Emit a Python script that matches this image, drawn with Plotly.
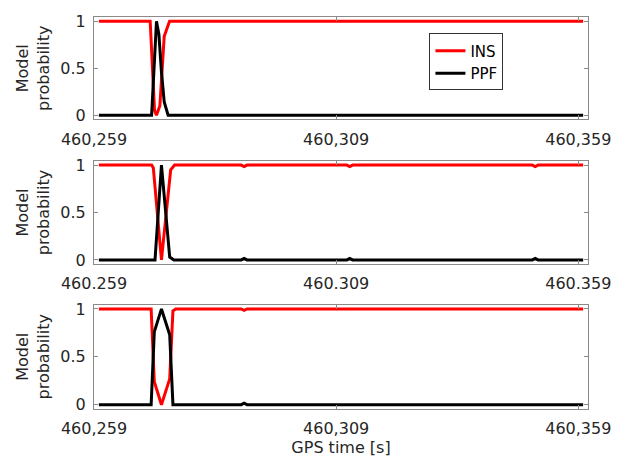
import plotly.graph_objects as go

# Model probabilities of the INS and PPF filters over GPS time (three runs)
ins1_t = [460260, 460270.6, 460271.5, 460271.9, 460272.6, 460273.5, 460274.6, 460360]
ins1_p = [1, 1, 0.05, 0, 0.1, 0.84, 1, 1]
ppf1_t = [460260, 460270.9, 460271.9, 460272.4, 460272.9, 460273.5, 460274.3, 460360]
ppf1_p = [0, 0, 1, 0.86, 0.48, 0.14, 0, 0]

ins2_t = [460260, 460270.9, 460271.25, 460272.93, 460274.83, 460275.64, 460289.4, 460290,
          460290.6, 460311.2, 460311.8, 460312.4, 460349.5, 460350.1, 460350.7, 460360]
ins2_p = [1, 1, 0.97, 0, 0.95, 1, 1, 0.985, 1, 1, 0.985, 1, 1, 0.985, 1, 1]
ppf2_t = [460260, 460271.6, 460272.93, 460274.63, 460275.5, 460289.4, 460290, 460290.6,
          460311.2, 460311.8, 460312.4, 460349.5, 460350.1, 460350.7, 460360]
ppf2_p = [0, 0, 1, 0.03, 0, 0, 0.015, 0, 0, 0.015, 0, 0, 0.015, 0, 0]

ins3_t = [460260, 460270.8, 460271.45, 460272.93, 460274.63, 460275.3, 460275.9,
          460289.4, 460290, 460290.6, 460360]
ins3_p = [1, 1, 0.24, 0, 0.27, 0.98, 1, 1, 0.985, 1, 1]
ppf3_t = [460260, 460270.8, 460271.45, 460272.93, 460274.63, 460275.3, 460289.4, 460290,
          460290.6, 460360]
ppf3_p = [0, 0, 0.76, 1, 0.73, 0, 0, 0.015, 0, 0]

x_ticks = [460259, 460309, 460359]
x_labels_comma = ["460,259", "460,309", "460,359"]
x_labels_point = ["460.259", "460.309", "460.359"]
y_ticks = [0, 0.5, 1]
y_labels = ["0", "0.5", "1"]

FONT = "DejaVu Sans"
RED = "#ff0000"
BLACK = "#000000"
AXIS_GREY = "#8a8a8a"
TEXT = "#262626"

panels = [
    (ins1_t, ins1_p, ppf1_t, ppf1_p, x_labels_comma),
    (ins2_t, ins2_p, ppf2_t, ppf2_p, x_labels_point),
    (ins3_t, ins3_p, ppf3_t, ppf3_p, x_labels_comma),
]
domains = [[0.7387, 1.0], [0.3693, 0.6332], [0.0, 0.2663]]

fig = go.Figure()
layout = dict(
    width=623, height=464,
    margin=dict(l=94, r=24, t=13, b=53),
    paper_bgcolor="white", plot_bgcolor="white",
    font=dict(family=FONT, size=16, color=TEXT),
    showlegend=True,
    legend=dict(x=0.679, y=0.958, xanchor="left", yanchor="top",
                bordercolor="#333333", borderwidth=1, bgcolor="white",
                font=dict(family=FONT, size=15, color=BLACK),
                tracegroupgap=0),
)

for i, (it, ip, pt, pp, xl) in enumerate(panels):
    n = "" if i == 0 else str(i + 1)
    xa, ya = "x" + n, "y" + n
    fig.add_trace(go.Scatter(x=it, y=ip, mode="lines", name="INS",
                             line=dict(color=RED, width=3),
                             xaxis=xa, yaxis=ya, showlegend=(i == 0)))
    fig.add_trace(go.Scatter(x=pt, y=pp, mode="lines", name="PPF",
                             line=dict(color=BLACK, width=3),
                             xaxis=xa, yaxis=ya, showlegend=(i == 0)))
    layout["xaxis" + n] = dict(
        domain=[0, 1], anchor=ya, range=[460259, 460361],
        tickvals=x_ticks, ticktext=xl,
        ticks="inside", ticklen=4, tickcolor=AXIS_GREY,
        showline=True, linecolor=AXIS_GREY, linewidth=1, mirror="ticks",
        showgrid=False, zeroline=False,
        tickfont=dict(family=FONT, size=16, color=TEXT),
        ticklabelstandoff=5,
    )
    layout["yaxis" + n] = dict(
        domain=domains[i], anchor=xa, range=[-0.045, 1.045],
        tickvals=y_ticks, ticktext=y_labels,
        ticks="inside", ticklen=4, tickcolor=AXIS_GREY,
        showline=True, linecolor=AXIS_GREY, linewidth=1, mirror="ticks",
        showgrid=False, zeroline=False,
        tickfont=dict(family=FONT, size=16, color=TEXT),
        ticklabelstandoff=4,
        title=dict(text="Model<br>probability", standoff=6,
                   font=dict(family=FONT, size=16, color=TEXT)),
    )

layout["xaxis3"]["title"] = dict(text="GPS time [s]", standoff=3,
                                 font=dict(family=FONT, size=16, color=TEXT))

fig.update_layout(**layout)
fig.write_html("out.html")
